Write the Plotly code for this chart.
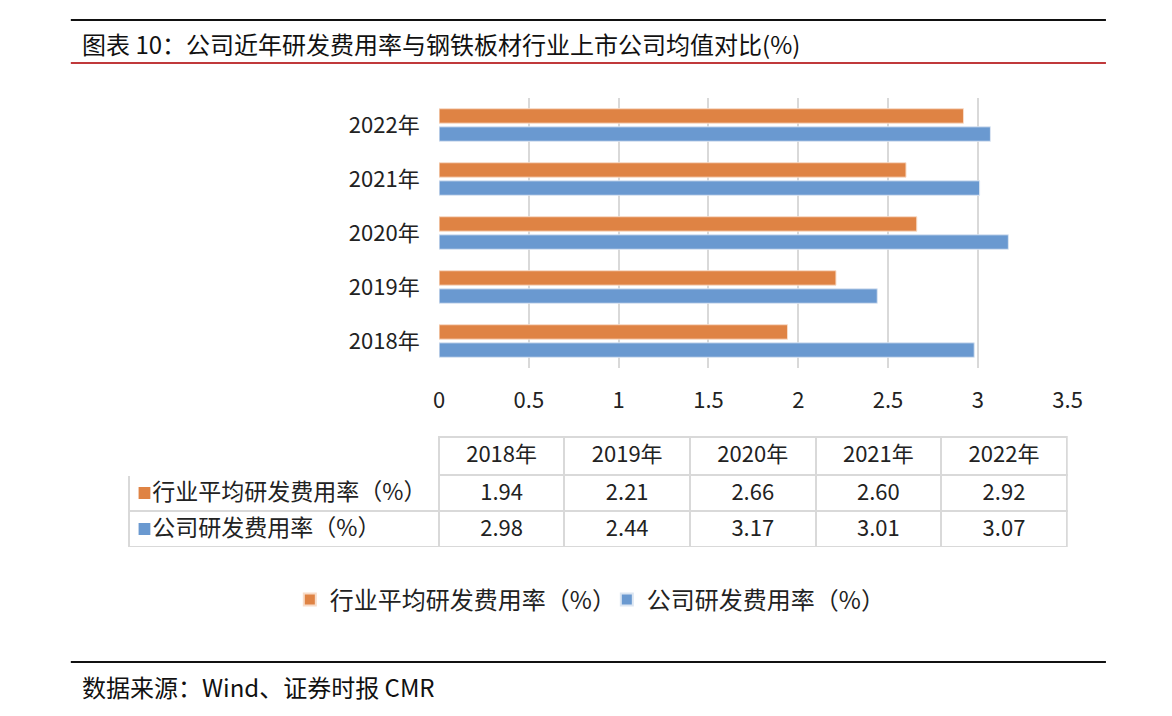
import plotly.graph_objects as go

W, H = 1172, 716

years = ["2018年", "2019年", "2020年", "2021年", "2022年"]
industry_name = "行业平均研发费用率（%）"
company_name = "公司研发费用率（%）"
industry = [1.94, 2.21, 2.66, 2.60, 2.92]
company = [2.98, 2.44, 3.17, 3.01, 3.07]
x_ticks = [0, 0.5, 1, 1.5, 2, 2.5, 3, 3.5]
x_tick_labels = ["0", "0.5", "1", "1.5", "2", "2.5", "3", "3.5"]

title_text = "图表 10：公司近年研发费用率与钢铁板材行业上市公司均值对比(%)"
source_text = "数据来源：Wind、证券时报 CMR"

ORANGE = "#DF8344"
BLUE = "#6A99D0"
GRID = "#D9D9D9"
NUM_FONT = "Noto Sans CJK SC, sans-serif"
CJK_FONT = "Noto Sans CJK SC, sans-serif"
NBSP = "\u00a0"


def px(x):
    return x / W


def py(y):
    return 1 - y / H


fig = go.Figure()
fig.add_trace(go.Bar(
    y=years, x=company, name=company_name, orientation="h",
    marker=dict(color=BLUE, line=dict(color="#DCE6F2", width=1)),
))
fig.add_trace(go.Bar(
    y=years, x=industry, name=industry_name, orientation="h",
    marker=dict(color=ORANGE, line=dict(color="#F8DCC8", width=1)),
))

# data table under the chart
fmt = lambda v: f"{v:.2f}"
header_vals = [""] + years
cell_vals = [[NBSP * 3 + industry_name, NBSP * 3 + company_name]]
for i in range(len(years)):
    cell_vals.append([fmt(industry[i]), fmt(company[i])])

fig.add_trace(go.Table(
    domain=dict(x=[px(125), px(1081)], y=[py(547), py(437)]),
    columnwidth=[316] + [128] * len(years),
    header=dict(values=header_vals, height=38,
                line=dict(color=["white"] + [GRID] * len(years), width=2),
                fill=dict(color="white"),
                font=dict(family=NUM_FONT, size=22, color="#222"),
                align="center"),
    cells=dict(values=cell_vals, height=36,
               line=dict(color=GRID, width=2),
               fill=dict(color="white"),
               font=dict(family=CJK_FONT, size=[23] + [22] * len(years), color="#222"),
               align=["left"] + ["center"] * len(years)),
))

fig.update_layout(
    width=W, height=H,
    margin=dict(l=0, r=0, t=0, b=0),
    paper_bgcolor="white", plot_bgcolor="white",
    barmode="group", bargap=0.33, bargroupgap=0.2,
    showlegend=True,
    legend=dict(orientation="h", x=px(289), xanchor="left", y=py(600), yanchor="middle",
                traceorder="reversed", font=dict(family=CJK_FONT, size=24, color="#222"),
                itemsizing="constant", entrywidth=272, entrywidthmode="pixels"),
    xaxis=dict(domain=[px(441), px(1081)], range=[0, 3.5], tickvals=x_ticks,
               ticktext=x_tick_labels, showgrid=True, gridcolor=GRID, gridwidth=2,
               zeroline=False, showline=False, ticks="outside", ticklen=13,
               tickcolor="rgba(0,0,0,0)",
               tickfont=dict(family=NUM_FONT, size=22, color="#222")),
    yaxis=dict(domain=[py(368), py(98)], type="category", showgrid=False,
               zeroline=False, showline=False, ticks="outside", ticklen=14,
               tickcolor="rgba(0,0,0,0)",
               tickfont=dict(family=NUM_FONT, size=22, color="#222")),
    font=dict(family=CJK_FONT),
)

# colour keys inside the table's label column
for j, col in enumerate([ORANGE, BLUE]):
    fig.add_shape(type="rect", xref="paper", yref="paper",
                  x0=px(135), x1=px(147),
                  y0=py(475 + 36 * j + 24), y1=py(475 + 36 * j + 12),
                  fillcolor=col, line=dict(width=0))

# decorative page lines
fig.add_shape(type="line", xref="paper", yref="paper", x0=px(66), x1=px(1120),
              y0=py(20), y1=py(20), line=dict(color="#111", width=2))
fig.add_shape(type="line", xref="paper", yref="paper", x0=px(66), x1=px(1120),
              y0=py(63), y1=py(63), line=dict(color="#C0393B", width=2))
fig.add_shape(type="line", xref="paper", yref="paper", x0=px(66), x1=px(1120),
              y0=py(662), y1=py(662), line=dict(color="#111", width=2))

fig.add_annotation(text=title_text, xref="paper", yref="paper", x=px(75), y=py(44),
                   xanchor="left", yanchor="middle", showarrow=False,
                   font=dict(family=CJK_FONT, size=24, color="#111"))
fig.add_annotation(text=source_text, xref="paper", yref="paper", x=px(75), y=py(686),
                   xanchor="left", yanchor="middle", showarrow=False,
                   font=dict(family=CJK_FONT, size=24, color="#111"))

post = (
    "document.documentElement.style.margin='0';"
    "document.documentElement.style.overflow='hidden';"
    "document.body.style.margin='0';"
    "document.body.style.overflow='hidden';"
    "var gd=document.getElementById('{plot_id}');"
    "Plotly.relayout(gd,{width:window.innerWidth,height:window.innerHeight});"
)

fig.write_html("out.html", post_script=post, config={"displayModeBar": False})
